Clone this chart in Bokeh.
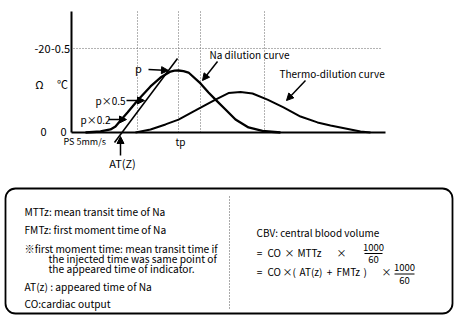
from bokeh.plotting import figure
from bokeh.models import Range1d, Arrow, NormalHead, ColumnDataSource
from bokeh.core.properties import value
from bokeh.embed import file_html
from bokeh.resources import INLINE

FONT = "Noto Sans CJK JP"

# ---- curve data (time units, signal units; dotted reference level = 0.5) ----
na_t = [1.4, 2.9, 3.9, 4.4, 4.9, 5.6, 6.6, 7.9, 8.9, 9.9, 10.3, 10.7, 11.2, 11.7, 12.9, 13.7, 14.4, 15.4, 16.4, 17.7, 19.1, 20.9]
na_v = [0.0, 0.006, 0.018, 0.036, 0.071, 0.119, 0.190, 0.274, 0.327, 0.363, 0.368, 0.369, 0.365, 0.357, 0.292, 0.238, 0.196, 0.137, 0.077, 0.030, 0.009, 0.0]

th_t = [6.4, 7.9, 9.4, 10.7, 12.4, 14.4, 15.7, 16.9, 18.1, 19.6, 21.2, 22.9, 24.6, 25.9, 27.4, 28.9, 29.9]
th_v = [0.0, 0.018, 0.048, 0.077, 0.131, 0.196, 0.235, 0.241, 0.232, 0.196, 0.149, 0.095, 0.060, 0.042, 0.024, 0.006, 0.0]

tangent_t = [4.3, 10.6]
tangent_v = [-0.060, 0.440]

guide_t = [6.6, 10.7, 12.9, 19.3]
ref_level = 0.5
axis_top = 0.72
axis_end = 31.4
ref_start, ref_end = 0.2, 31.0

ohm_labels = ["0", "-20"]
temp_labels = ["0", "-0.5"]
tick_vals = [0.0, 0.5]

left_notes = ["MTTz: mean transit time of Na",
              "FMTz: first moment time of Na",
              "※first moment time: mean transit time if",
              "the injected time was same point of",
              "the appeared time of indicator.",
              "AT(z) : appeared time of Na",
              "CO:cardiac output"]
cbv_title = "CBV: central blood volume"
eq2_tokens = ["=", "CO", "×", "MTTz", "×"]
eq3_tokens = ["=", "CO", "×(", "AT(z)", "+", "FMTz", ")", "×"]
frac_num = ["1000", "1000"]
frac_den = ["60", "60"]

# ---- figure ----
p = figure(width=456, height=316, output_backend="svg", toolbar_location=None,
           x_range=Range1d(-7.1, 38.5), y_range=Range1d(-1.0952, 0.7857),
           x_axis_location=None, y_axis_location=None, min_border=0)
p.extra_x_ranges = {"px": Range1d(0, 456)}
p.extra_y_ranges = {"px": Range1d(316, 0)}
p.grid.visible = False
p.outline_line_color = None
p.background_fill_color = "white"

PX = dict(x_range_name="px", y_range_name="px")

# guides (dotted)
p.segment(x0=guide_t, y0=[0] * len(guide_t), x1=guide_t, y1=[axis_top] * len(guide_t),
          line_color="#666", line_width=1, line_dash="1 2")
p.segment(x0=[ref_start], y0=[ref_level], x1=[ref_end], y1=[ref_level],
          line_color="#666", line_width=1, line_dash="1 2")

# axes
p.line([0, 0], [0, axis_top], line_color="black", line_width=2)
p.line([0, axis_end], [0, 0], line_color="black", line_width=2)

# curves
p.line(na_t, na_v, line_color="black", line_width=2.3)
p.line(th_t, th_v, line_color="black", line_width=2.0)
p.line(tangent_t, tangent_v, line_color="black", line_width=1.6)

# axis labels
p.text(x=[43, 42], y=[131, 48], text=ohm_labels, **PX, text_align="center", text_baseline="middle",
       text_font=value(FONT), text_font_size="11px", text_color="black")
p.text(x=[63, 60], y=[131, 48], text=temp_labels, **PX, text_align="center", text_baseline="middle",
       text_font=value(FONT), text_font_size="11px", text_color="black")
p.text(x=[39, 62], y=[83, 83], text=["Ω", "℃"], **PX, text_align="center", text_baseline="middle",
       text_font=value(FONT), text_font_size="11px", text_color="black")

# annotations on chart
p.text(x=[138], y=[67], text=["p"], **PX, text_align="center", text_baseline="middle",
       text_font=value(FONT), text_font_size="11px")
p.text(x=[95, 80], y=[100, 119], text=["p×0.5", "p×0.2"], **PX, text_align="left", text_baseline="middle",
       text_font=value(FONT), text_font_size="10px")
p.text(x=[209], y=[54], text=["Na dilution curve"], **PX, text_align="left", text_baseline="middle",
       text_font=value(FONT), text_font_size="10px")
p.text(x=[279], y=[73], text=["Thermo-dilution curve"], **PX, text_align="left", text_baseline="middle",
       text_font=value(FONT), text_font_size="10px")
p.text(x=[180], y=[141], text=["tp"], **PX, text_align="center", text_baseline="middle",
       text_font=value(FONT), text_font_size="10px")
p.text(x=[63], y=[141], text=["PS 5mm/s"], **PX, text_align="left", text_baseline="middle",
       text_font=value(FONT), text_font_size="9px")
p.text(x=[122], y=[162], text=["AT(Z)"], **PX, text_align="center", text_baseline="middle",
       text_font=value(FONT), text_font_size="11px")

arrows = ColumnDataSource(dict(
    xs=[120, 148, 126, 108, 217, 305],
    ys=[155, 69, 100, 119, 61, 80],
    xe=[120, 168, 144, 126, 202, 286],
    ye=[136, 70, 100, 119, 80, 100],
))
p.add_layout(Arrow(end=NormalHead(size=7, fill_color="black", line_color="black"),
                   x_start="xs", y_start="ys", x_end="xe", y_end="ye", source=arrows,
                   line_width=1.5, line_color="black", **PX))

# ---- note box ----
p.quad(left=[5], right=[452], top=[188], bottom=[313], fill_color=None,
       line_color="black", line_width=1.8, border_radius=10, **PX)
p.segment(x0=[229], y0=[196], x1=[229], y1=[310], line_color="#555", line_width=1,
          line_dash="1 2", **PX)

p.text(x=[24, 24, 24, 48, 48, 24, 24], y=[211, 229, 248, 258, 268, 286, 303], text=left_notes, **PX,
       text_align="left", text_baseline="middle", text_font=value(FONT), text_font_size="10.2px")
p.text(x=[256], y=[232], text=[cbv_title], **PX,
       text_align="left", text_baseline="middle", text_font=value(FONT), text_font_size="10px")
p.text(x=[259, 267, 289, 297, 341], y=[252] * 5, text=eq2_tokens, **PX,
       text_align=["center", "left", "center", "left", "center"], text_baseline="middle",
       text_font=value(FONT), text_font_size="10px")
p.text(x=[259, 267, 282, 299, 329, 336, 363, 386], y=[271] * 8, text=eq3_tokens, **PX,
       text_align=["center", "left", "left", "left", "center", "left", "left", "center"],
       text_baseline="middle", text_font=value(FONT), text_font_size="10px")
p.text(x=[373, 404], y=[247, 267], text=frac_num, **PX, text_align="center", text_baseline="middle",
       text_font=value(FONT), text_font_size="9.5px")
p.text(x=[373, 404], y=[259, 280], text=frac_den, **PX, text_align="center", text_baseline="middle",
       text_font=value(FONT), text_font_size="9.5px")
p.segment(x0=[364, 394], y0=[253, 273.5], x1=[382, 414], y1=[253, 273.5], line_color="black",
          line_width=1, **PX)

open("out.html", "w").write(file_html(p, INLINE))
